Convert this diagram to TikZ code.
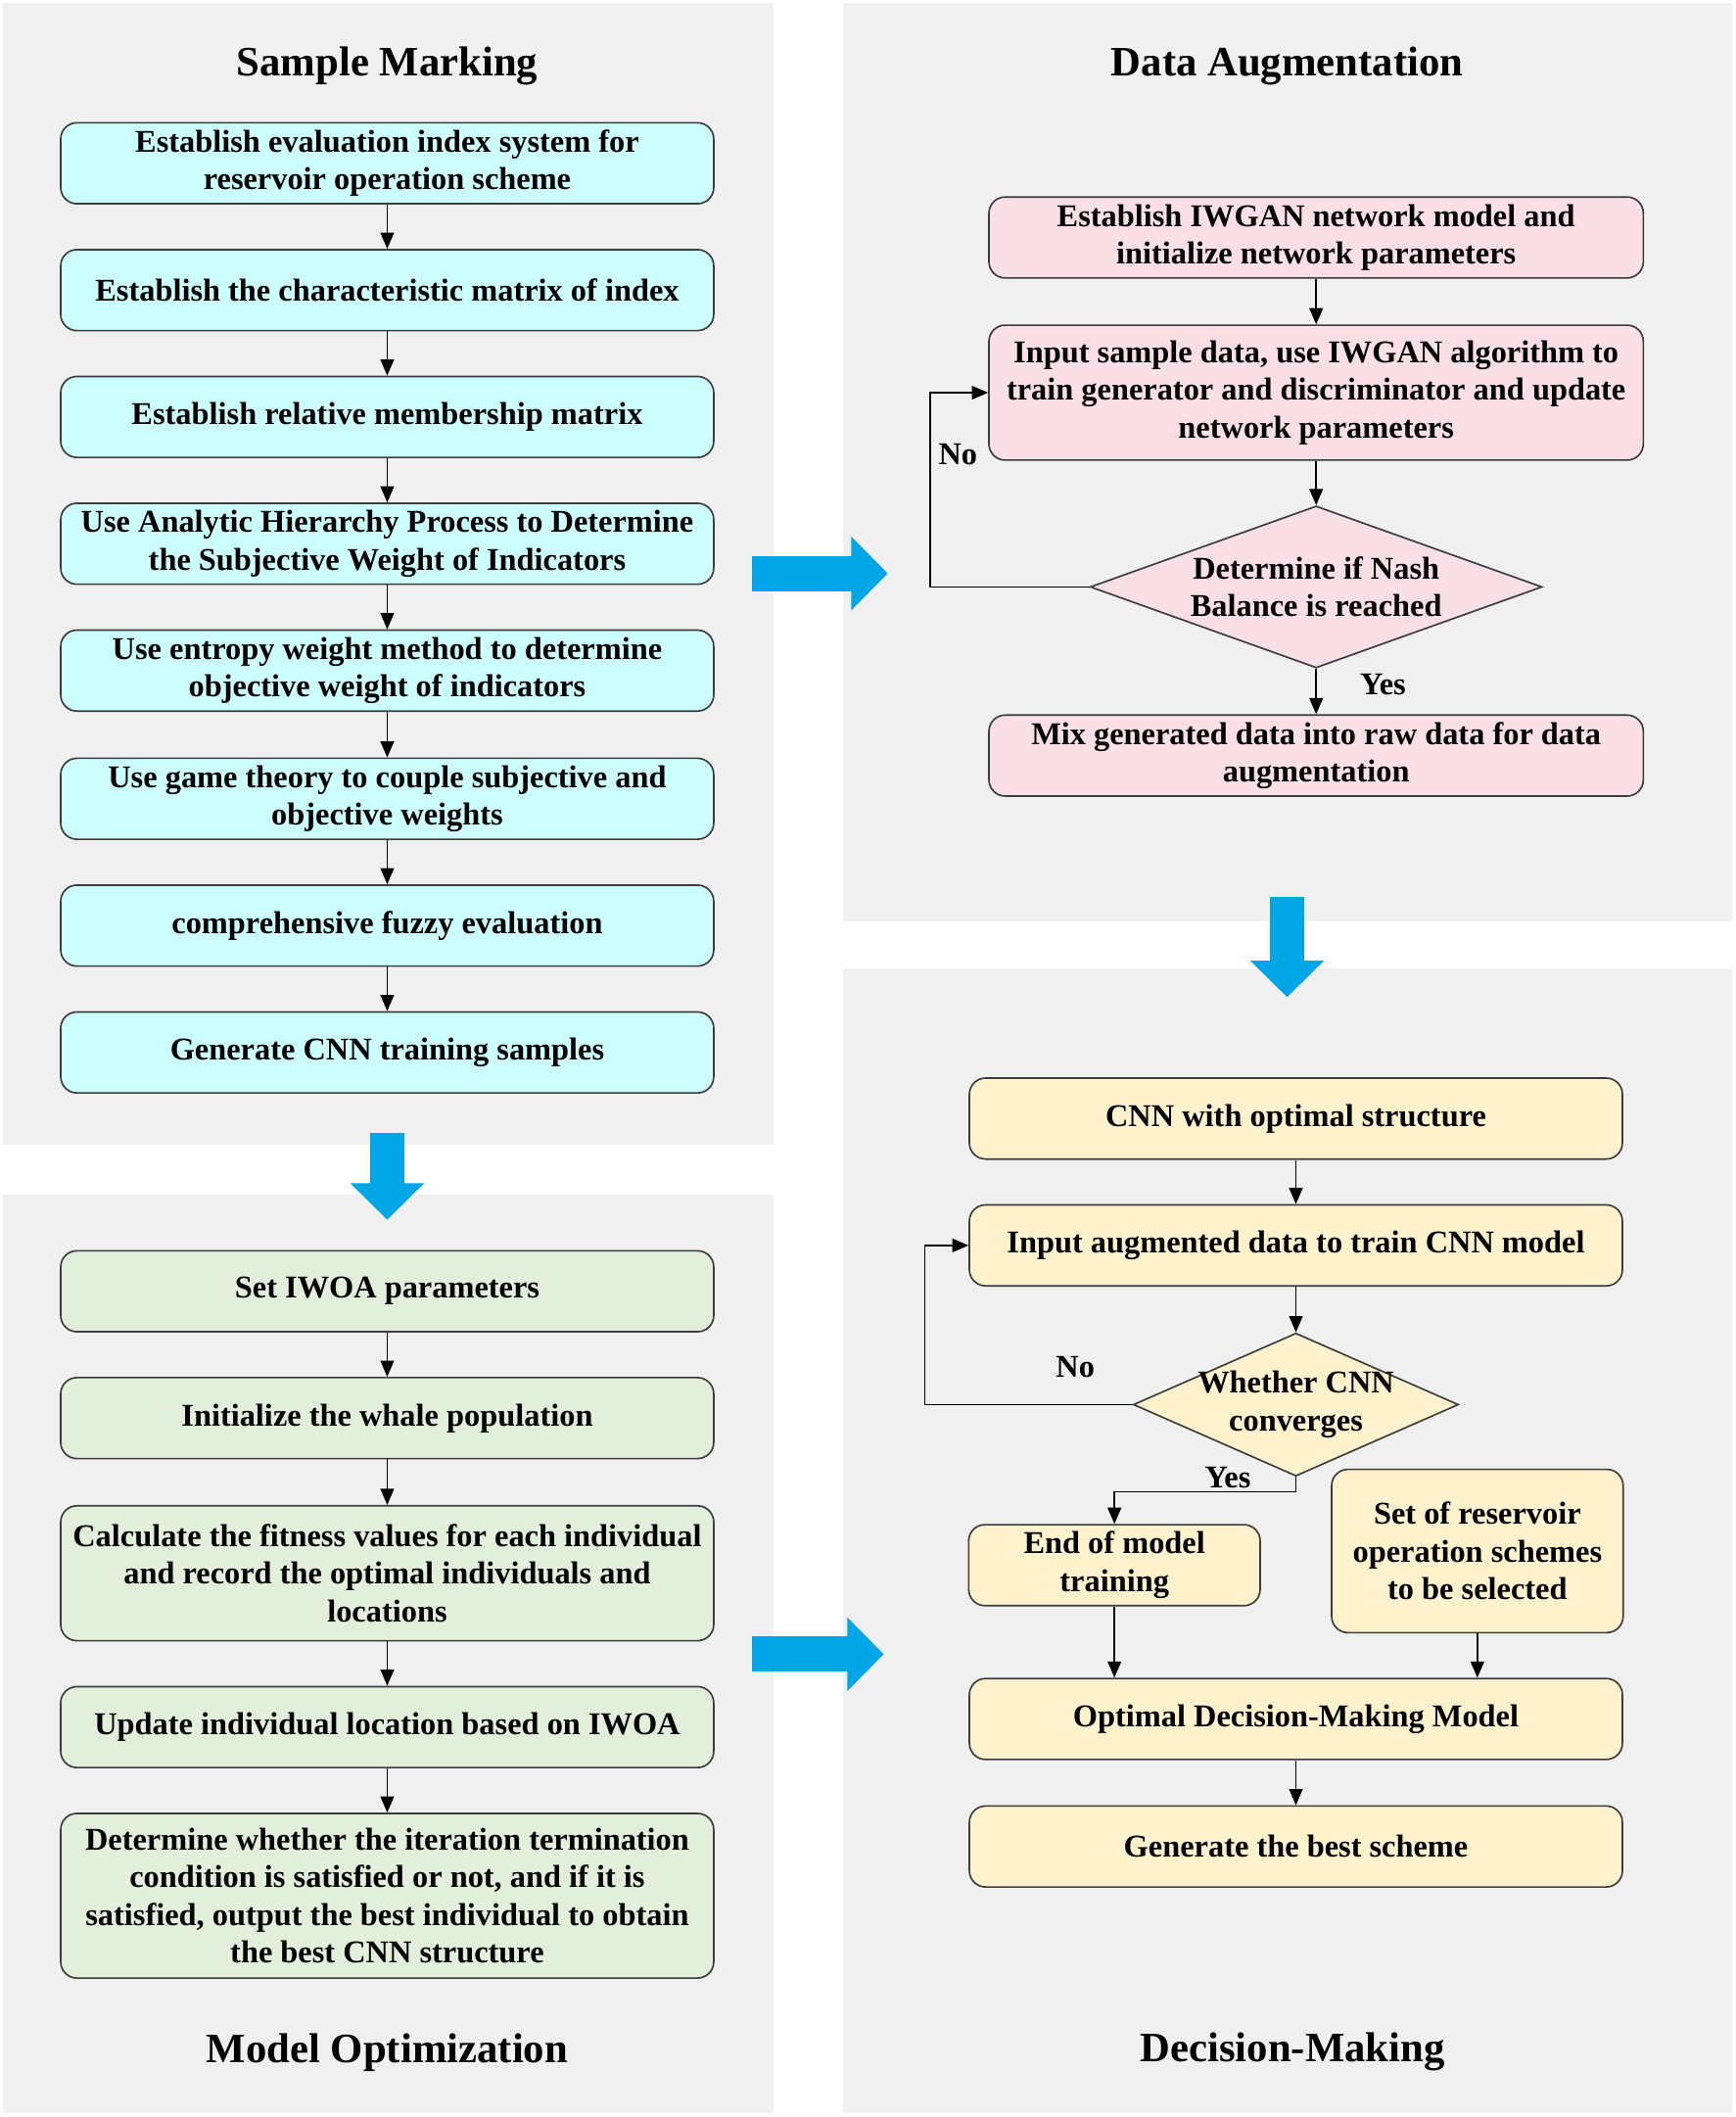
\documentclass[tikz,border=0pt]{standalone}
\usepackage{fontspec}
\setmainfont{Liberation Serif}
\usetikzlibrary{arrows.meta,shapes.geometric}
\definecolor{panelgray}{RGB}{240,240,240}
\definecolor{edgegray}{RGB}{60,60,60}
\definecolor{cyanfill}{RGB}{204,255,255}
\definecolor{pinkfill}{RGB}{250,223,231}
\definecolor{greenfill}{RGB}{226,239,218}
\definecolor{yellowfill}{RGB}{255,242,204}
\definecolor{arrowblue}{RGB}{0,166,230}
\tikzset{
  box/.style={draw=edgegray, line width=1.2pt, rounded corners=12pt, minimum width=484pt,
    minimum height=60pt, align=center, inner sep=3pt, font=\fontsize{23.5}{28}\selectfont\bfseries},
  decision/.style={diamond, draw=edgegray, line width=1.2pt, align=center, inner sep=0pt,
    font=\fontsize{23.5}{28}\selectfont\bfseries},
  title/.style={font=\fontsize{31}{36}\selectfont\bfseries},
  lbl/.style={font=\fontsize{23.5}{28}\selectfont\bfseries},
  arr/.style={line width=1.2pt, -{Triangle[length=12pt,width=10pt]}},
  bigarrow/.style={draw=arrowblue, line width=26pt, -{Triangle[length=27pt,width=53pt]}}
}
\begin{document}
\begin{tikzpicture}[x=1pt,y=-1pt]
\useasboundingbox (0,0) rectangle (1286,1569);
% panels
\fill[panelgray] (2,2) rectangle (573,848);
\fill[panelgray] (625,2) rectangle (1284,683);
\fill[panelgray] (2,885) rectangle (573,1566);
\fill[panelgray] (625,718) rectangle (1284,1566);
% titles
\node[title] (tS) at (287,49) {Sample Marking};
\node[title] (tD) at (954,49) {Data Augmentation};
\node[title] (tM) at (287,1521) {Model Optimization};
\node[title] (tC) at (958,1521) {Decision-Making};
% sample marking
\node[box, fill=cyanfill] (S1) at (287,121) {Establish evaluation index system for\\reservoir operation scheme};
\node[box, fill=cyanfill] (S2) at (287,215) {Establish the characteristic matrix of index};
\node[box, fill=cyanfill] (S3) at (287,309) {Establish relative membership matrix};
\node[box, fill=cyanfill] (S4) at (287,403) {Use Analytic Hierarchy Process to Determine\\the Subjective Weight of Indicators};
\node[box, fill=cyanfill] (S5) at (287,497) {Use entropy weight method to determine\\objective weight of indicators};
\node[box, fill=cyanfill] (S6) at (287,592) {Use game theory to couple subjective and\\objective weights};
\node[box, fill=cyanfill] (S7) at (287,686) {comprehensive fuzzy evaluation};
\node[box, fill=cyanfill] (S8) at (287,780) {Generate CNN training samples};
\draw[arr] (S1) -- (S2);
\draw[arr] (S2) -- (S3);
\draw[arr] (S3) -- (S4);
\draw[arr] (S4) -- (S5);
\draw[arr] (S5) -- (S6);
\draw[arr] (S6) -- (S7);
\draw[arr] (S7) -- (S8);
% model optimization
\node[box, fill=greenfill] (M1) at (287,957) {Set IWOA parameters};
\node[box, fill=greenfill] (M2) at (287,1051) {Initialize the whale population};
\node[box, fill=greenfill, minimum height=100pt] (M3) at (287,1166) {Calculate the fitness values for each individual\\and record the optimal individuals and\\locations};
\node[box, fill=greenfill] (M4) at (287,1280) {Update individual location based on IWOA};
\node[box, fill=greenfill, minimum height=122pt] (M5) at (287,1405) {Determine whether the iteration termination\\condition is satisfied or not, and if it is\\satisfied, output the best individual to obtain\\the best CNN structure};
\draw[arr] (M1) -- (M2);
\draw[arr] (M2) -- (M3);
\draw[arr] (M3) -- (M4);
\draw[arr] (M4) -- (M5);
% data augmentation
\node[box, fill=pinkfill, minimum width=485pt] (D1) at (975.5,176) {Establish IWGAN network model and\\initialize network parameters};
\node[box, fill=pinkfill, minimum width=485pt, minimum height=100pt] (D2) at (975.5,291) {Input sample data, use IWGAN algorithm to\\train generator and discriminator and update\\network parameters};
\node[decision, fill=pinkfill, aspect=2.79, minimum width=335pt, minimum height=120pt] (D3) at (975.5,435) {Determine if Nash\\Balance is reached};
\node[box, fill=pinkfill, minimum width=485pt] (D4) at (975.5,560) {Mix generated data into raw data for data\\augmentation};
\draw[arr] (D1) -- (D2);
\draw[arr] (D2) -- (D3);
\draw[arr] (D3) -- (D4);
\draw[arr] (D3.west) -- ++(-118,0) |- (D2.west);
\node[lbl] (noD) at (710,337) {No};
\node[lbl] (yesD) at (1025,507) {Yes};
% decision making
\node[box, fill=yellowfill] (C1) at (960.5,829) {CNN with optimal structure};
\node[box, fill=yellowfill] (C2) at (960.5,923) {Input augmented data to train CNN model};
\node[decision, fill=yellowfill, aspect=2.26, inner xsep=-10pt, inner ysep=-2pt, minimum width=241pt, minimum height=106pt] (C3) at (960.5,1041) {Whether CNN\\converges};
\node[box, fill=yellowfill, minimum width=216pt] (C4) at (826,1160) {End of model\\training};
\node[box, fill=yellowfill, minimum width=216pt, minimum height=121pt] (C5) at (1095,1149.5) {Set of reservoir\\operation schemes\\to be selected};
\node[box, fill=yellowfill] (C6) at (960.5,1274) {Optimal Decision-Making Model};
\node[box, fill=yellowfill] (C7) at (960.5,1368.5) {Generate the best scheme};
\draw[arr] (C1) -- (C2);
\draw[arr] (C2) -- (C3);
\draw[arr] (C3.west) -- ++(-154,0) |- (C2.west);
\draw[arr] (C3.south) -- ++(0,11) -| (C4.north);
\draw[arr] (C4.south) -- (C4.south |- C6.north);
\draw[arr] (C5.south) -- (C5.south |- C6.north);
\draw[arr] (C6) -- (C7);
\node[lbl] (noC) at (797,1013) {No};
\node[lbl] (yesC) at (910,1095) {Yes};
% big arrows between panels
\draw[bigarrow] (557,425) -- (658,425);
\draw[bigarrow] (287,840) -- (287,904);
\draw[bigarrow] (954,665) -- (954,739);
\draw[bigarrow] (557,1226) -- (655,1226);
\end{tikzpicture}
\end{document}
